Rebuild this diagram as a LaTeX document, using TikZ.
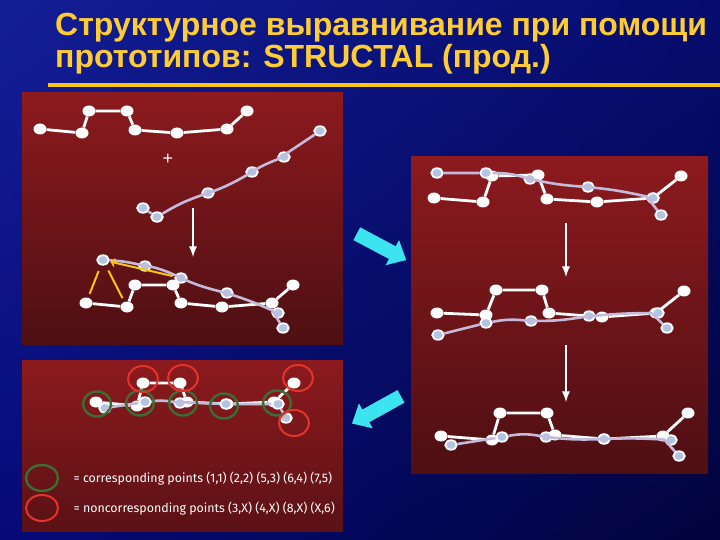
\documentclass[tikz,border=0pt]{standalone}
\usepackage{fontspec}
\setmainfont{Liberation Sans}
\newfontfamily\legendfont{Fira Sans}
\usetikzlibrary{shapes.geometric,shapes.arrows,shadings}

\definecolor{titleyellow}{RGB}{255,204,51}
\definecolor{rulegold}{RGB}{250,196,20}
\definecolor{proteinblue}{RGB}{178,196,224}
\definecolor{backbone}{RGB}{196,186,220}
\definecolor{matchgreen}{RGB}{58,110,52}
\definecolor{gapred}{RGB}{226,52,44}
\definecolor{arrowcyan}{RGB}{60,228,240}
\definecolor{paneltop}{RGB}{140,26,30}
\definecolor{panelbottom}{RGB}{78,15,19}
\definecolor{bgtopleft}{RGB}{20,30,150}
\definecolor{bgtopright}{RGB}{5,12,110}
\definecolor{bgbottomleft}{RGB}{5,10,120}
\definecolor{bgbottomright}{RGB}{2,4,60}

\begin{document}
\begin{tikzpicture}[
        x=1pt, y=-1pt,
        ref/.style={ellipse, fill=white, inner sep=0pt, minimum width=13pt, minimum height=11pt},
        tgt/.style={ellipse, draw=white, line width=1.8pt, fill=proteinblue, inner sep=0pt, minimum width=11.5pt, minimum height=9.5pt},
        ref_link/.style={white, line width=2.8pt},
        tgt_link/.style={backbone, line width=2.6pt},
        pair/.style={rulegold, line width=2pt, shorten >=4pt, shorten <=6pt},
        same/.style={ellipse, draw=matchgreen, line width=2.4pt, minimum width=28pt, minimum height=25pt},
        diff/.style={ellipse, draw=gapred, line width=2pt, minimum width=30pt, minimum height=26pt},
        step_arrow/.style={-latex, white, line width=2.6pt},
        big_arrow/.style={single arrow, fill=arrowcyan, minimum height=56pt, inner xsep=0pt, inner ysep=7pt, single arrow head extend=7pt, single arrow tip angle=84},
        legend_text/.style={anchor=west, text=white, font=\legendfont\fontsize{12.4}{12.4}\selectfont}
    ]

        % Background and panels
        \useasboundingbox (0,0) rectangle (720,540);
        \shade[upper left=bgtopleft, upper right=bgtopright, lower left=bgbottomleft, lower right=bgbottomright] (0,0) rectangle (720,540);
        \shade[top color=paneltop, bottom color=panelbottom] (22,93) rectangle (343,344);
        \shade[top color=paneltop, bottom color=panelbottom!80!paneltop] (22,360) rectangle (343,531);
        \shade[top color=paneltop, bottom color=panelbottom] (411,157) rectangle (708,473);

        % Title
        \node[anchor=base west, text=titleyellow, font=\bfseries\fontsize{32}{32}\selectfont, inner sep=0pt] (title1) at (55,36) {Структурное выравнивание при помощи};
        \node[anchor=base west, text=titleyellow, font=\bfseries\fontsize{32}{32}\selectfont, inner sep=0pt] (title2) at (55,68) {прототипов: STRUCTAL (прод.)};
        \fill[rulegold] (48,83) rectangle (720,87);

        % Panel 1: the two chains
        \node[ref] (a1) at (40,129) {};
        \node[ref] (a2) at (82,133) {};
        \node[ref] (a3) at (89,111) {};
        \node[ref] (a4) at (127,111) {};
        \node[ref] (a5) at (135,130) {};
        \node[ref] (a6) at (177,133) {};
        \node[ref] (a7) at (227,129) {};
        \node[ref] (a8) at (247,111) {};
        \draw[ref_link] (a1) -- (a2) -- (a3) -- (a4) -- (a5) -- (a6) -- (a7) -- (a8);
        \node[text=white, font=\fontsize{18}{18}\selectfont] (plus) at (168,159) {+};
        \node[tgt] (b1) at (143,208) {};
        \node[tgt] (b2) at (157,217) {};
        \node[tgt] (b3) at (208,193) {};
        \node[tgt] (b4) at (252,172) {};
        \node[tgt] (b5) at (284,157) {};
        \node[tgt] (b6) at (320,131) {};
        \draw[tgt_link] (b1) -- (b2) to[bend left=6] (b3) to[bend right=6] (b4) to[bend left=6] (b5) -- (b6);
        \coordinate (s1_from) at (193,208);
        \coordinate (s1_to) at (193,257);
        \draw[step_arrow] (s1_from) -- (s1_to);

        % Panel 1: first superposition
        \node[ref] (c1) at (86,303) {};
        \node[ref] (c2) at (127,307) {};
        \node[ref] (c3) at (135,285) {};
        \node[ref] (c4) at (173,285) {};
        \node[ref] (c5) at (181,303) {};
        \node[ref] (c6) at (222,307) {};
        \node[ref] (c7) at (272,303) {};
        \node[ref] (c8) at (293,285) {};
        \draw[ref_link] (c1) -- (c2) -- (c3) -- (c4) -- (c5) -- (c6) -- (c7) -- (c8);
        \node[tgt] (d1) at (103,260) {};
        \node[tgt] (d2) at (145,266) {};
        \node[tgt] (d3) at (181,278) {};
        \node[tgt] (d4) at (227,293) {};
        \node[tgt] (d5) at (278,313) {};
        \node[tgt] (d6) at (283,328) {};
        \draw[tgt_link] (d1) to[bend left=5] (d2) to[bend left=8] (d3) to[bend right=6] (d4) to[bend left=4] (d5) -- (d6);
        \draw[pair] (d1) -- (c1);
        \draw[pair] (d1) -- (c2);
        \draw[pair, ->, shorten >=1pt, shorten <=2pt] (d3) -- (d1);

        % Panel 3: second superposition
        \node[ref] (e1) at (434,198) {};
        \node[ref] (e2) at (483,202) {};
        \node[ref] (e3) at (492,176) {};
        \node[ref] (e4) at (538,175) {};
        \node[ref] (e5) at (547,199) {};
        \node[ref] (e6) at (597,202) {};
        \node[ref] (e7) at (653,198) {};
        \node[ref] (e8) at (681,176) {};
        \draw[ref_link] (e1) -- (e2) -- (e3) -- (e4) -- (e5) -- (e6) -- (e7) -- (e8);
        \node[tgt] (f1) at (437,173) {};
        \node[tgt] (f2) at (486,173) {};
        \node[tgt] (f3) at (530,179) {};
        \node[tgt] (f4) at (588,187) {};
        \node[tgt] (f5) at (653,198) {};
        \node[tgt] (f6) at (661,215) {};
        \draw[tgt_link] (f1) -- (f2) to[bend left=8] (f3) to[bend right=5] (f4) to[bend left=4] (f5) -- (f6);
        \coordinate (s2_from) at (566,223);
        \coordinate (s2_to) at (566,277);
        \draw[step_arrow] (s2_from) -- (s2_to);

        % Panel 3: third superposition
        \node[ref] (g1) at (437,313) {};
        \node[ref] (g2) at (486,315) {};
        \node[ref] (g3) at (496,290) {};
        \node[ref] (g4) at (542,290) {};
        \node[ref] (g5) at (549,313) {};
        \node[ref] (g6) at (602,317) {};
        \node[ref] (g7) at (656,313) {};
        \node[ref] (g8) at (684,291) {};
        \draw[ref_link] (g1) -- (g2) -- (g3) -- (g4) -- (g5) -- (g6) -- (g7) -- (g8);
        \node[tgt] (h1) at (438,335) {};
        \node[tgt] (h2) at (486,323) {};
        \node[tgt] (h3) at (531,321) {};
        \node[tgt] (h4) at (589,316) {};
        \node[tgt] (h5) at (658,313) {};
        \node[tgt] (h6) at (667,328) {};
        \draw[tgt_link] (h1) -- (h2) to[bend left=8] (h3) to[bend right=6] (h4) to[bend left=3] (h5) -- (h6);
        \coordinate (s3_from) at (566,345);
        \coordinate (s3_to) at (566,402);
        \draw[step_arrow] (s3_from) -- (s3_to);

        % Panel 3: final superposition
        \node[ref] (i1) at (441,436) {};
        \node[ref] (i2) at (492,440) {};
        \node[ref] (i3) at (500,413) {};
        \node[ref] (i4) at (547,413) {};
        \node[ref] (i5) at (555,435) {};
        \node[ref] (i6) at (604,439) {};
        \node[ref] (i7) at (663,436) {};
        \node[ref] (i8) at (688,413) {};
        \draw[ref_link] (i1) -- (i2) -- (i3) -- (i4) -- (i5) -- (i6) -- (i7) -- (i8);
        \node[tgt] (j1) at (451,445) {};
        \node[tgt] (j2) at (502,437) {};
        \node[tgt] (j3) at (546,437) {};
        \node[tgt] (j4) at (604,439) {};
        \node[tgt] (j5) at (671,440) {};
        \node[tgt] (j6) at (679,456) {};
        \draw[tgt_link] (j1) -- (j2) to[bend left=10] (j3) to[bend right=5] (j4) to[bend left=3] (j5) -- (j6);

        % Panel 2: corresponding and noncorresponding points
        \node[ref] (k1) at (96,402) {};
        \node[ref] (k2) at (137,406) {};
        \node[ref] (k3) at (143,383) {};
        \node[ref] (k4) at (180,383) {};
        \node[ref] (k5) at (187,402) {};
        \node[ref] (k6) at (227,404) {};
        \node[ref] (k7) at (274,402) {};
        \node[ref] (k8) at (294,383) {};
        \draw[ref_link] (k1) -- (k2) -- (k3) -- (k4) -- (k5) -- (k6) -- (k7) -- (k8);
        \node[tgt] (l1) at (105,408) {};
        \node[tgt] (l2) at (145,402) {};
        \node[tgt] (l3) at (180,403) {};
        \node[tgt] (l4) at (226,404) {};
        \node[tgt] (l5) at (278,404) {};
        \node[tgt] (l6) at (286,418) {};
        \draw[tgt_link] (l1) -- (l2) to[bend left=8] (l3) -- (l4) -- (l5) -- (l6);
        \node[same] (same1) at (97,404) {};
        \node[same] (same2) at (140,403) {};
        \node[same] (same3) at (183,403) {};
        \node[same] (same4) at (224,406) {};
        \node[same] (same5) at (277,403) {};
        \node[diff] (diff1) at (143,379) {};
        \node[diff] (diff2) at (183,378) {};
        \node[diff] (diff3) at (298,378) {};
        \node[diff] (diff4) at (294,423) {};

        % Legend
        \node[same, minimum width=32pt, minimum height=26pt] (key_same) at (42,478) {};
        \node[legend_text] (key_same_text) at (70,479) {= corresponding points (1,1) (2,2) (5,3) (6,4) (7,5)};
        \node[diff, minimum width=32pt, minimum height=26pt] (key_diff) at (42,508) {};
        \node[legend_text] (key_diff_text) at (70,509) {= noncorresponding points (3,X) (4,X) (8,X) (X,6)};

        % Cyan arrows between the panels
        \node[big_arrow, rotate=-28] (to_panel3) at (378,245) {};
        \node[big_arrow, rotate=209] (to_panel2) at (380,408) {};

    \end{tikzpicture}
\end{document}
